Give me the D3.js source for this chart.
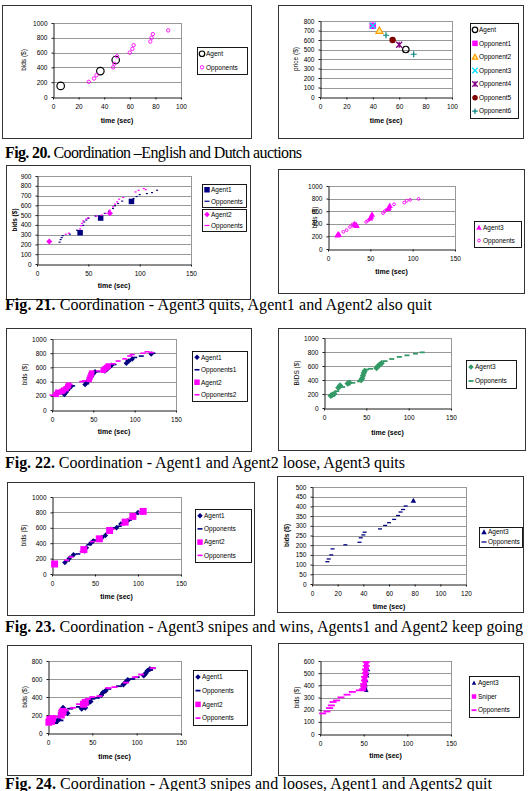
<!DOCTYPE html>
<html>
<head>
<meta charset="utf-8">
<script src="https://cdn.jsdelivr.net/npm/d3@7"></script>
<style>
  body { margin: 0; background: #fff; }
  svg { display: block; }
</style>
</head>
<body>
<svg id="canvas" width="530" height="791"></svg>
<script>
// tick values
let ticks0to100 = [0, 20, 40, 60, 80, 100]
let ticks0to120 = [0, 20, 40, 60, 80, 100, 120]
let ticks0to150 = [0, 50, 100, 150]
let bids1000 = [0, 200, 400, 600, 800, 1000]
let bids900 = [0, 100, 200, 300, 400, 500, 600, 700, 800, 900]
let price800 = [0, 100, 200, 300, 400, 500, 600, 700, 800]
let bids800 = [0, 200, 400, 600, 800]
let bids500 = [0, 50, 100, 150, 200, 250, 300, 350, 400, 450, 500]
let bids600 = [0, 100, 200, 300, 400, 500, 600]

// Fig 20 left - English auction
let f20aAgent = [[6, 150], [37, 350], [49, 500]]
let f20aOpp = [[28, 205], [32, 250], [34, 295], [47, 400], [48, 450], [50, 550], [60, 600], [62, 650], [63, 700], [76, 750], [77, 800], [78, 850], [90, 900]]

// Fig 20 right - Dutch auction
let f20bAgent = [[65, 500]]
let f20bOpp1 = [[40, 750]]
let f20bOpp2 = [[45, 700]]
let f20bOpp3 = [[40, 750]]
let f20bOpp4 = [[60, 550]]
let f20bOpp5 = [[55, 600]]
let f20bOpp6 = [[50, 650], [71, 450]]

// Fig 21 left
let f21aAgent1 = [[42, 320], [62, 470], [92, 640]]
let f21aOpp1 = [[22, 223], [23, 250], [24, 270], [25, 290], [32, 305], [39, 345], [45, 395], [46, 430], [48, 450], [50, 467], [57, 490], [66, 517], [70, 540], [74, 568], [76, 595], [79, 619], [83, 643], [94, 670], [97, 690], [100, 710], [107, 720], [112, 730], [117, 754]]
let f21aAgent2 = [[12, 230], [71, 520]]
let f21aOpp2 = [[28, 304], [31, 315], [42, 359], [43, 392], [44, 416], [45, 440], [48, 460], [50, 474], [58, 490], [63, 500], [67, 518], [71, 551], [74, 585], [76, 612], [78, 636], [80, 663], [84, 680], [96, 737], [99, 754], [104, 771], [106, 760]]

// Fig 21 right
let f21bAgent3 = [[11, 220], [12, 240], [13, 230], [31, 400], [32, 380], [33, 390], [34, 370], [50, 490], [51, 520], [52, 550], [71, 640], [72, 660], [73, 690]]
let f21bOpp = [[18, 273], [22, 300], [26, 350], [29, 390], [45, 430], [47, 450], [49, 470], [65, 570], [67, 600], [69, 620], [78, 710], [90, 735], [93, 765], [97, 780], [107, 795]]

// Fig 22 left
let f22aAgent1 = [[15, 220], [17, 250], [19, 280], [21, 310], [23, 330], [40, 360], [42, 390], [44, 420], [46, 450], [48, 480], [50, 510], [52, 540], [64, 550], [66, 570], [68, 590], [70, 610], [72, 630], [90, 660], [93, 690], [97, 720], [120, 790]]
let f22aOpp1 = [[9, 230], [11, 240], [25, 340], [42, 370], [55, 540], [75, 640], [92, 700], [100, 740], [108, 760], [122, 800]]
let f22aAgent2 = [[5, 220], [7, 250], [12, 260], [14, 280], [17, 300], [19, 330], [20, 350], [45, 430], [46, 460], [47, 490], [48, 520], [62, 560], [64, 580], [66, 600], [68, 620]]
let f22aOpp2 = [[0, 210], [4, 215], [22, 360], [36, 400], [39, 410], [56, 550], [74, 650], [80, 690], [88, 720], [94, 760], [97, 780], [110, 800], [115, 820], [120, 810]]

// Fig 22 right
let f22bAgent3 = [[8, 176], [10, 190], [12, 200], [17, 290], [19, 320], [28, 350], [30, 360], [44, 400], [45, 420], [46, 460], [47, 500], [48, 530], [62, 570], [64, 600], [66, 620], [68, 640]]
let f22bOpp = [[12, 210], [15, 240], [22, 300], [34, 360], [42, 380], [50, 550], [55, 560], [72, 670], [80, 700], [89, 730], [98, 752], [108, 776], [116, 795]]

// Fig 23 left
let f23aAgent1 = [[15, 150], [20, 200], [25, 250], [38, 300], [40, 340], [45, 400], [48, 430], [58, 470], [62, 500], [68, 580], [75, 600], [80, 650], [88, 690], [95, 750], [100, 800]]
let f23aOpp1 = [[18, 170], [23, 230], [30, 260], [43, 380], [50, 440], [60, 490], [65, 530], [72, 600], [78, 620], [90, 700], [98, 780]]
let f23aAgent2 = [[3, 130], [37, 317], [55, 457], [67, 565], [85, 674], [94, 748], [106, 813]]
let f23aOpp2 = [[17, 180], [22, 220], [35, 290], [47, 420], [56, 450], [70, 580], [82, 640], [92, 730], [103, 800]]

// Fig 23 right
let f23bAgent3 = [[79, 430]]
let f23bOpp = [[12, 115], [13, 129], [15, 150], [16, 181], [26, 202], [37, 215], [38, 238], [40, 253], [41, 267], [53, 284], [57, 302], [60, 316], [64, 333], [67, 353], [69, 371], [71, 384], [73, 402]]

// Fig 24 left
let f24aAgent1 = [[10, 130], [12, 150], [15, 250], [17, 280], [20, 240], [22, 220], [38, 270], [40, 300], [42, 280], [45, 330], [48, 350], [60, 420], [62, 450], [65, 470], [85, 540], [88, 570], [90, 590], [108, 640], [110, 660], [112, 690], [115, 710]]
let f24aOpp1 = [[8, 110], [14, 140], [25, 270], [35, 290], [50, 380], [55, 390], [68, 490], [80, 520], [95, 600], [100, 620], [115, 700], [118, 720]]
let f24aAgent2 = [[1, 120], [2, 150], [4, 130], [5, 160], [15, 200], [16, 230], [17, 240], [40, 320], [42, 340]]
let f24aOpp2 = [[6, 160], [10, 180], [20, 250], [28, 280], [35, 320], [45, 380], [50, 400], [58, 410], [68, 500], [75, 510], [88, 560], [98, 620], [105, 650], [118, 720]]

// Fig 24 right
let f24bAgent3 = [[52, 380], [53, 360], [52, 400], [53, 440], [54, 480], [54, 500], [55, 530]]
let f24bSniper = [[50, 370], [50, 400], [51, 430], [51, 460], [52, 490], [52, 520], [53, 550], [53, 580]]
let f24bOpp = [[3, 169], [8, 185], [11, 213], [13, 235], [15, 263], [19, 276], [24, 301], [31, 323], [37, 346], [45, 359], [49, 370], [50, 390], [50, 410], [51, 440], [51, 470], [52, 500], [52, 530], [53, 560], [53, 590]]

let captionLabels = ['Fig. 20.', 'Fig. 21.', 'Fig. 22.', 'Fig. 23.', 'Fig. 24.']
let captionTexts = [
  ' Coordination \u2013English and Dutch auctions',
  ' Coordination - Agent3 quits, Agent1 and Agent2 also quit',
  ' Coordination - Agent1 and Agent2 loose, Agent3 quits',
  ' Coordination - Agent3 snipes and wins, Agents1 and Agent2 keep going',
  ' Coordination - Agent3 snipes and looses, Agent1 and Agents2 quit'
]
// baseline y and width of each caption line
let captionPos = [[158, 297], [310, 427], [468, 400], [632, 518], [789, 487]]

let NAVY = '#000080'
let MAG = '#ff00ff'
let GREEN = '#339966'
let SANS = 'Liberation Sans, Arial, sans-serif'

let panels = [
  { box: [2, 5, 251, 138], plot: [53, 23, 181, 97], xt: ticks0to100, yt: bids1000, yl: 'bids ($)', ylx: 24, xly: 121,
    series: [
      { name: 'Agent', data: f20aAgent, mark: 'circle', color: '#000', size: 7.5, fill: 'none', sw: 1.2 },
      { name: 'Opponents', data: f20aOpp, mark: 'circle', color: MAG, size: 3.4, fill: 'none', sw: 0.9 }],
    legends: [{ box: [197, 47, 247, 74], items: [0, 1] }] },
  { box: [278, 5, 523, 138], plot: [320, 21, 452, 97], xt: ticks0to100, yt: price800, yl: 'price ($)', ylx: 296, xly: 121,
    series: [
      { name: 'Agent', data: f20bAgent, mark: 'circle', color: '#000', size: 6.5, fill: 'none', sw: 1.2 },
      { name: 'Opponent1', data: f20bOpp1, mark: 'square', color: MAG, size: 6.5, fill: MAG },
      { name: 'Opponent2', data: f20bOpp2, mark: 'triangle', color: '#ff9900', size: 7, fill: '#ffee88', sw: 1.2 },
      { name: 'Opponent3', data: f20bOpp3, mark: 'x', color: '#00e0ff', size: 6, sw: 1.3 },
      { name: 'Opponent4', data: f20bOpp4, mark: 'star', color: '#800080', size: 6, sw: 1.3 },
      { name: 'Opponent5', data: f20bOpp5, mark: 'circle', color: '#800000', size: 6.5, fill: '#800000' },
      { name: 'Opponent6', data: f20bOpp6, mark: 'plus', color: '#008080', size: 6, sw: 1.2 }],
    legends: [{ box: [470, 23, 518, 118], items: [0, 1, 2, 3, 4, 5, 6] }] },
  { box: [6, 165, 250, 299], plot: [37, 176, 191, 264], xt: ticks0to150, yt: bids900, yl: 'bids ($)', ylBold: true, ylx: 15, xly: 286,
    series: [
      { name: 'Agent1', data: f21aAgent1, mark: 'square', color: NAVY, size: 5.5, fill: NAVY },
      { name: 'Opponents', data: f21aOpp1, mark: 'dash', color: NAVY, size: 2, sw: 1.2 },
      { name: 'Agent2', data: f21aAgent2, mark: 'diamond', color: MAG, size: 6, fill: MAG },
      { name: 'Opponents', data: f21aOpp2, mark: 'dash', color: MAG, size: 2, sw: 1.2 }],
    legends: [{ box: [202, 184, 246, 207], items: [0, 1] }, { box: [202, 209, 246, 231], items: [2, 3] }] },
  { box: [278, 169, 524, 293], plot: [328, 186, 455, 249], xt: ticks0to150, yt: bids1000, yl: 'bids ($)', ylx: 315, xly: 272,
    series: [
      { name: 'Agent3', data: f21bAgent3, mark: 'triangle', color: MAG, size: 6, fill: MAG },
      { name: 'Opponents', data: f21bOpp, mark: 'circle', color: MAG, size: 2.8, fill: 'none', sw: 0.9 }],
    legends: [{ box: [474, 221, 521, 247], items: [0, 1] }] },
  { box: [6, 328, 251, 451], plot: [52, 339, 176, 410], xt: ticks0to150, yt: bids1000, yl: 'bids ($)', ylx: 25, xly: 432,
    series: [
      { name: 'Agent1', data: f22aAgent1, mark: 'diamond', color: NAVY, size: 5.5, fill: NAVY },
      { name: 'Opponents1', data: f22aOpp1, mark: 'dash', color: NAVY, size: 5, sw: 1.6 },
      { name: 'Agent2', data: f22aAgent2, mark: 'square', color: MAG, size: 5.5, fill: MAG },
      { name: 'Opponents2', data: f22aOpp2, mark: 'dash', color: MAG, size: 5, sw: 1.6 }],
    legends: [{ box: [192, 351, 247, 401], items: [0, 1, 2, 3] }] },
  { box: [278, 328, 525, 450], plot: [324, 338, 451, 408], xt: ticks0to150, yt: bids1000, yl: 'BIDS ($)', ylx: 297, xly: 433,
    series: [
      { name: 'Agent3', data: f22bAgent3, mark: 'diamond', color: GREEN, size: 6.5, fill: GREEN },
      { name: 'Opponents', data: f22bOpp, mark: 'dash', color: GREEN, size: 5, sw: 1.8 }],
    legends: [{ box: [466, 360, 516, 388], items: [0, 1] }] },
  { box: [7, 482, 254, 615], plot: [52, 497, 181, 574], xt: ticks0to150, yt: bids1000, yl: 'bids ($)', ylx: 24, xly: 597,
    series: [
      { name: 'Agent1', data: f23aAgent1, mark: 'diamond', color: NAVY, size: 5.5, fill: NAVY },
      { name: 'Opponents', data: f23aOpp1, mark: 'dash', color: NAVY, size: 5, sw: 1.6 },
      { name: 'Agent2', data: f23aAgent2, mark: 'square', color: MAG, size: 7, fill: MAG },
      { name: 'Opponents', data: f23aOpp2, mark: 'dash', color: MAG, size: 5, sw: 1.6 }],
    legends: [{ box: [195, 509, 251, 562], items: [0, 1, 2, 3] }] },
  { box: [277, 476, 523, 612], plot: [312, 487, 466, 584], xt: ticks0to120, yt: bids500, yl: 'bids ($)', ylBold: true, ylx: 287, xly: 607,
    series: [
      { name: 'Agent3', data: f23bAgent3, mark: 'triangle', color: NAVY, size: 5.5, fill: NAVY },
      { name: 'Opponents', data: f23bOpp, mark: 'dash', color: NAVY, size: 4, sw: 1.3 }],
    legends: [{ box: [479, 527, 522, 547], items: [0, 1] }] },
  { box: [7, 645, 251, 775], plot: [48, 661, 181, 733], xt: ticks0to150, yt: bids800, yl: 'bids ($)', ylx: 25, xly: 757,
    series: [
      { name: 'Agent1', data: f24aAgent1, mark: 'diamond', color: NAVY, size: 6, fill: NAVY },
      { name: 'Opponents', data: f24aOpp1, mark: 'dash', color: NAVY, size: 6, sw: 1.8 },
      { name: 'Agent2', data: f24aAgent2, mark: 'square', color: MAG, size: 7, fill: MAG },
      { name: 'Opponents', data: f24aOpp2, mark: 'dash', color: MAG, size: 6, sw: 1.8 }],
    legends: [{ box: [193, 670, 247, 725], items: [0, 1, 2, 3] }] },
  { box: [278, 643, 523, 775], plot: [320, 661, 451, 734], xt: ticks0to150, yt: bids600, yl: 'bids ($)', ylx: 297, xly: 756,
    series: [
      { name: 'Agent3', data: f24bAgent3, mark: 'triangle', color: NAVY, size: 4.5, fill: NAVY },
      { name: 'Sniper', data: f24bSniper, mark: 'square', color: MAG, size: 4.5, fill: MAG },
      { name: 'Opponents', data: f24bOpp, mark: 'dash', color: MAG, size: 7, sw: 1.8 }],
    legends: [{ box: [469, 676, 519, 717], items: [0, 1, 2] }] }
]

let canvas = d3.select('#canvas')

let markPath = (mark, s) => {
  let h = s / 2
  if (mark === 'square') return `M${-h},${-h}H${h}V${h}H${-h}Z`
  if (mark === 'diamond') return `M0,${-h}L${h},0L0,${h}L${-h},0Z`
  if (mark === 'triangle') return `M0,${-h}L${h},${h * 0.8}L${-h},${h * 0.8}Z`
  if (mark === 'x') return `M${-h},${-h}L${h},${h}M${-h},${h}L${h},${-h}`
  if (mark === 'star') return `M${-h},${-h}L${h},${h}M${-h},${h}L${h},${-h}M0,${-h}V${h}`
  if (mark === 'plus') return `M${-h},0H${h}M0,${-h}V${h}`
  if (mark === 'dash') return `M${-h},0H${h}`
  return `M${h},0A${h},${h} 0 1,1 ${-h},0A${h},${h} 0 1,1 ${h},0Z`
}

let styleMark = (sel, s) => {
  let lineMark = ['x', 'star', 'plus', 'dash'].includes(s.mark)
  sel.attr('fill', lineMark ? 'none' : (s.fill || s.color))
     .attr('stroke', lineMark || s.sw ? s.color : 'none')
     .attr('stroke-width', s.sw || 0)
}

let drawPanel = (p) => {
  let g = canvas.append('g')
  let [bx0, by0, bx1, by1] = p.box
  let [px0, py0, px1, py1] = p.plot

  g.append('rect')
   .attr('x', bx0 + 0.5).attr('y', by0 + 0.5)
   .attr('width', bx1 - bx0).attr('height', by1 - by0)
   .attr('fill', '#fff').attr('stroke', '#333').attr('stroke-width', 1)

  let x = d3.scaleLinear().domain([0, d3.max(p.xt)]).range([px0, px1])
  let y = d3.scaleLinear().domain([0, d3.max(p.yt)]).range([py1, py0])

  // gridlines and plot frame
  g.selectAll('.grid')
   .data(p.yt.filter(d => d > 0))
   .enter()
   .append('line')
   .attr('x1', px0).attr('x2', px1)
   .attr('y1', d => Math.round(y(d)) + 0.5).attr('y2', d => Math.round(y(d)) + 0.5)
   .attr('stroke', '#8c8c8c').attr('stroke-width', 0.9)
  g.append('line')
   .attr('x1', px1 + 0.5).attr('x2', px1 + 0.5)
   .attr('y1', py0).attr('y2', py1)
   .attr('stroke', '#8c8c8c').attr('stroke-width', 0.9)

  let xAxis = g.append('g')
               .attr('transform', `translate(0,${py1 + 0.5})`)
               .call(d3.axisBottom(x).tickValues(p.xt).tickFormat(d3.format('d')).tickSize(2).tickSizeOuter(0).tickPadding(5))
  let yAxis = g.append('g')
               .attr('transform', `translate(${px0 + 0.5},0)`)
               .call(d3.axisLeft(y).tickValues(p.yt).tickFormat(d3.format('d')).tickSize(2).tickSizeOuter(0).tickPadding(4))
  ;[xAxis, yAxis].forEach(a => {
    a.attr('font-family', SANS).attr('font-size', 6.5)
    a.selectAll('path, line').attr('stroke', '#000').attr('stroke-width', 0.9)
    a.selectAll('text').attr('fill', '#000')
  })

  // axis titles
  g.append('text')
   .attr('x', (px0 + px1) / 2).attr('y', p.xly)
   .attr('dy', '0.35em')
   .attr('text-anchor', 'middle')
   .attr('font-family', SANS).attr('font-size', 7).attr('font-weight', 'bold')
   .text('time (sec)')
  g.append('text')
   .attr('transform', `translate(${p.ylx},${(py0 + py1) / 2}) rotate(-90)`)
   .attr('dy', '0.35em')
   .attr('text-anchor', 'middle')
   .attr('font-family', SANS).attr('font-size', 6.5)
   .attr('font-weight', p.ylBold ? 'bold' : 'normal')
   .text(p.yl)

  // marks
  p.series.forEach(s => {
    g.append('g')
     .selectAll('path')
     .data(s.data)
     .enter()
     .append('path')
     .attr('d', markPath(s.mark, s.size))
     .attr('transform', d => `translate(${x(d[0])},${y(d[1])})`)
     .call(styleMark, s)
  })

  // legends
  p.legends.forEach(l => {
    let [lx0, ly0, lx1, ly1] = l.box
    g.append('rect')
     .attr('x', lx0 + 0.5).attr('y', ly0 + 0.5)
     .attr('width', lx1 - lx0).attr('height', ly1 - ly0)
     .attr('fill', '#fff').attr('stroke', '#000').attr('stroke-width', 0.9)
    let rowH = (ly1 - ly0) / l.items.length
    l.items.forEach((k, i) => {
      let s = p.series[k]
      let cy = ly0 + rowH * (i + 0.5)
      let sz = s.mark === 'dash' ? 5 : Math.min(s.size, 5.5)
      g.append('path')
       .attr('d', markPath(s.mark, sz))
       .attr('transform', `translate(${lx0 + 5},${cy})`)
       .call(styleMark, s)
      g.append('text')
       .attr('x', lx0 + 9).attr('y', cy)
       .attr('dy', '0.35em')
       .attr('font-family', SANS).attr('font-size', 6.5)
       .text(s.name)
    })
  })
}

panels.forEach(drawPanel)

// figure captions
captionLabels.forEach((lab, i) => {
  let t = canvas.append('text')
                .attr('x', 5).attr('y', captionPos[i][0])
                .attr('textLength', captionPos[i][1])
                .attr('lengthAdjust', 'spacing')
                .attr('font-family', 'Liberation Serif, Times New Roman, serif')
                .attr('font-size', 16)
  t.append('tspan').attr('font-weight', 'bold').text(lab)
  t.append('tspan').text(captionTexts[i])
})
</script>
</body>
</html>
